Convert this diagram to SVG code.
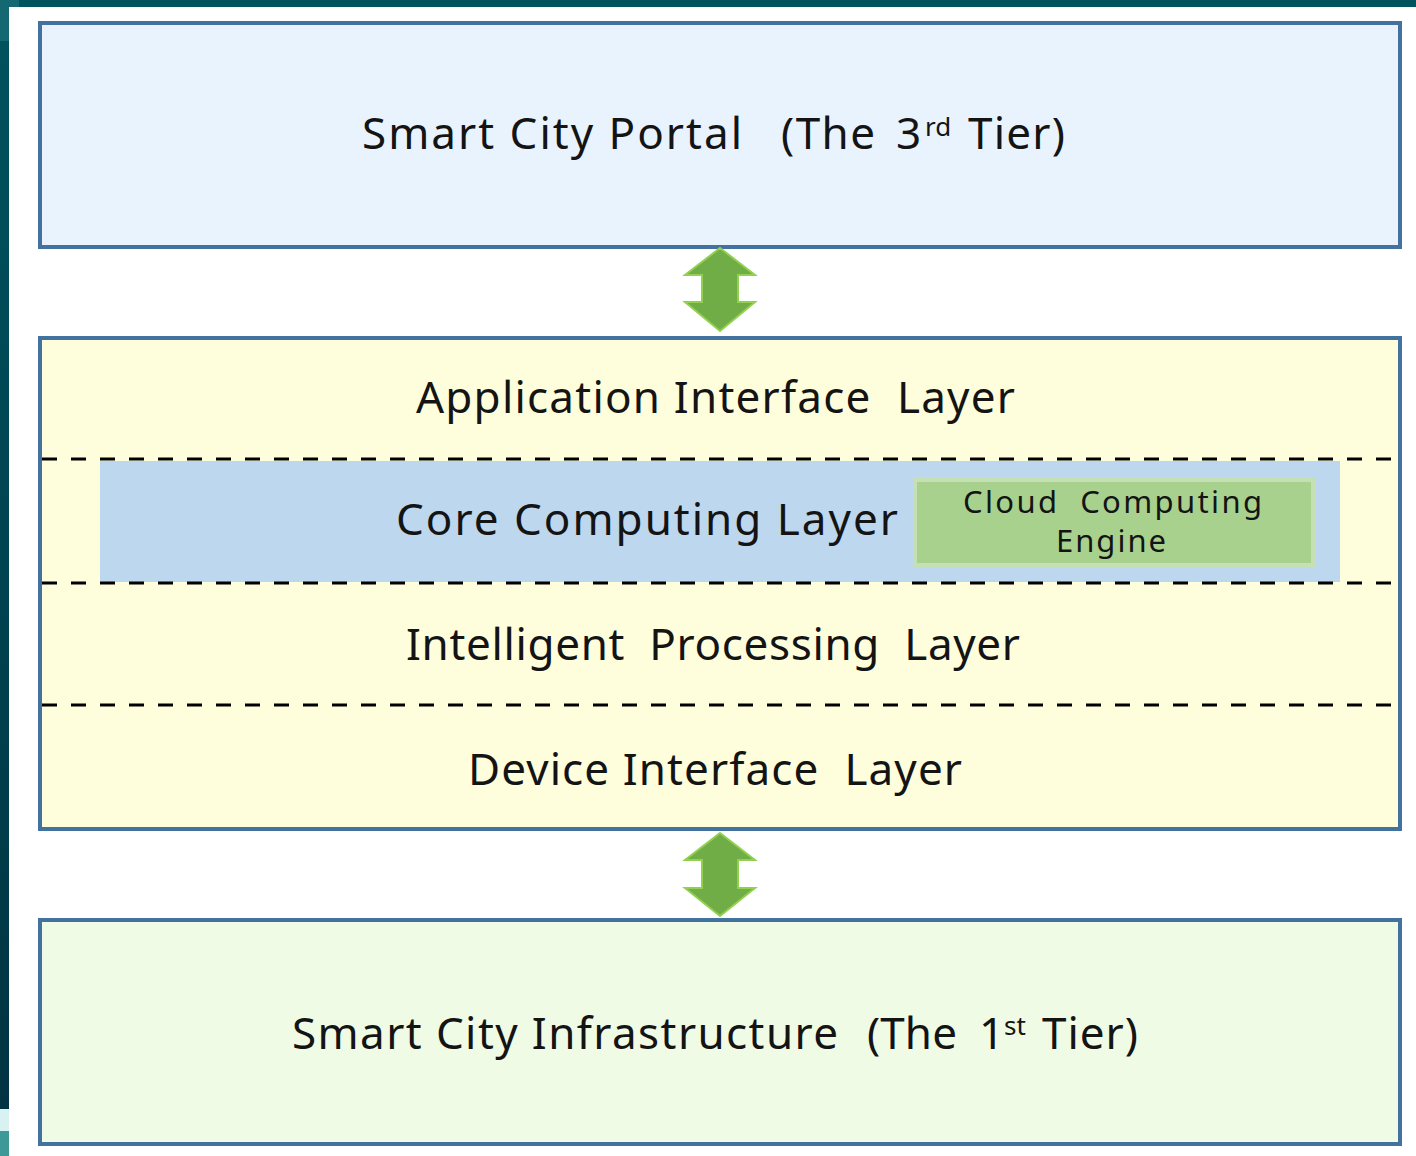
<svg xmlns="http://www.w3.org/2000/svg" width="1416" height="1156" viewBox="0 0 1416 1156">
<style>
  .box { stroke: #44729F; stroke-width: 4; }
  .lbl { font-family: "Noto Sans", "Open Sans", "Liberation Sans", sans-serif; font-size: 44px; fill: #141414; white-space: pre; }
  .sup { font-size: 26px; }
  .small { font-size: 31px; }
  .dash { stroke: #000; stroke-width: 3; stroke-dasharray: 15 14; fill: none; }
  .arrow { fill: #70AD47; stroke: #92D050; stroke-width: 2; stroke-linejoin: miter; }
</style>
<defs>
  <linearGradient id="side" x1="0" y1="0" x2="0" y2="1">
    <stop offset="0" stop-color="#01535F"/>
    <stop offset="1" stop-color="#003442"/>
  </linearGradient>
</defs>
<rect x="0" y="0" width="1416" height="1156" fill="#FFFFFF"/>
<g id="frame">
  <rect x="0" y="0" width="1416" height="7" fill="#01535F"/>
  <rect x="0" y="0" width="9" height="1109" fill="url(#side)"/>
  <rect x="0" y="0" width="19" height="7" fill="#136872"/>
  <rect x="0" y="0" width="9" height="41" fill="#136872"/>
  <rect x="0" y="1109" width="9" height="22" fill="#D8F2F2"/>
  <rect x="0" y="1131" width="9" height="25" fill="#3E9898"/>
</g>
<g id="portal">
  <rect class="box" x="40" y="23" width="1360" height="224" fill="#E9F3FD"/>
  <text class="lbl" y="149"><tspan x="362" textLength="380">Smart City Portal</tspan><tspan x="781" textLength="94">(The</tspan><tspan x="896">3</tspan><tspan x="925" y="136" class="sup">rd</tspan><tspan x="968" y="149" textLength="97">Tier)</tspan></text>
</g>
<g id="middle-tier">
  <rect class="box" x="40" y="338" width="1360" height="491" fill="#FEFEDC"/>
  <g id="application-interface-layer">
    <text class="lbl" x="416" y="413" textLength="599">Application Interface  Layer</text>
  </g>
  <g id="core-computing-layer">
    <rect x="100" y="461" width="1240" height="121" fill="#BDD7EE"/>
    <text class="lbl" x="396" y="535" textLength="502">Core Computing Layer</text>
    <g id="cloud-computing-engine">
      <rect x="915" y="480" width="398" height="85" fill="#A9D18E" stroke="#C5E0B4" stroke-width="4"/>
      <text class="lbl small" x="963" y="513" textLength="299">Cloud  Computing</text>
      <text class="lbl small" x="1056" y="552" textLength="110">Engine</text>
    </g>
  </g>
  <g id="intelligent-processing-layer">
    <text class="lbl" x="406" y="660" textLength="614">Intelligent  Processing  Layer</text>
  </g>
  <g id="device-interface-layer">
    <text class="lbl" x="468" y="785" textLength="494">Device Interface  Layer</text>
  </g>
  <g id="separators">
    <line class="dash" x1="42" y1="459" x2="1398" y2="459"/>
    <line class="dash" x1="42" y1="583" x2="1398" y2="583"/>
    <line class="dash" x1="42" y1="705" x2="1398" y2="705"/>
  </g>
</g>
<g id="infrastructure">
  <rect class="box" x="40" y="920" width="1360" height="224" fill="#F0FBE5"/>
  <text class="lbl" y="1049"><tspan x="292" textLength="546">Smart City Infrastructure</tspan><tspan x="867" textLength="90">(The</tspan><tspan x="979">1</tspan><tspan x="1004" y="1035" class="sup">st</tspan><tspan x="1042" y="1049" textLength="96">Tier)</tspan></text>
</g>
<g id="connectors">
  <polygon class="arrow" points="720,248 755,275 738,275 738,302 755,302 720,331 685,302 702,302 702,275 685,275"/>
  <polygon class="arrow" points="720,833 755,860 738,860 738,888 755,888 720,916 685,888 702,888 702,860 685,860"/>
</g>
</svg>
